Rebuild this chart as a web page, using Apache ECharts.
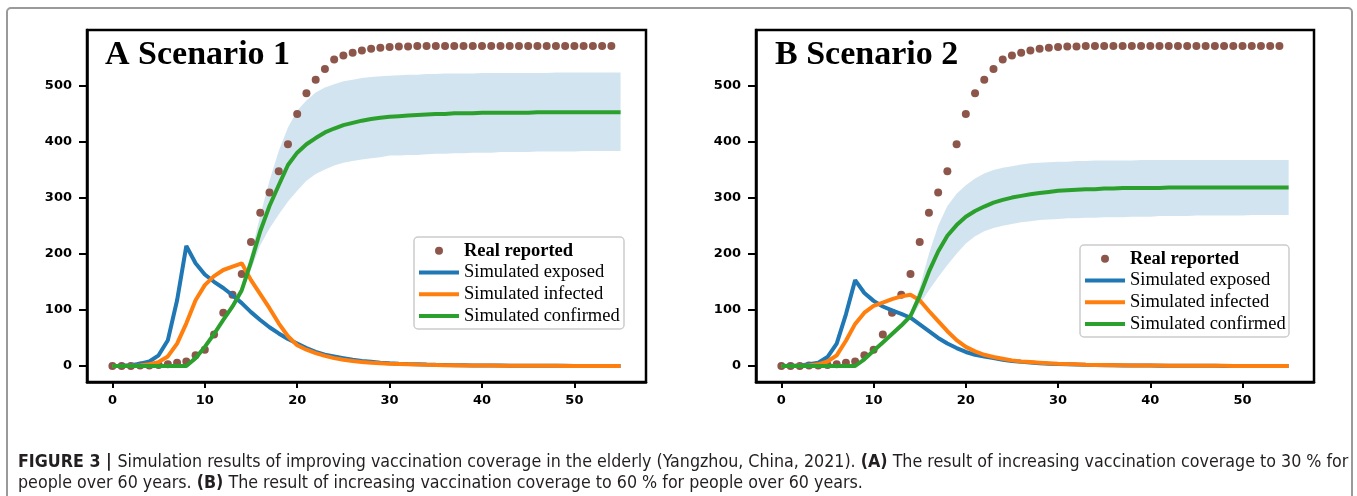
<!DOCTYPE html>
<html><head><meta charset="utf-8">
<script src="https://cdn.jsdelivr.net/npm/echarts@6/dist/echarts.min.js"></script>
<style>html,body{margin:0;padding:0;background:#fff}#c{width:1357px;height:496px}</style>
</head><body><div id="c"></div>
<script>
// ---- data (day index = position in array, day 0 .. 55) ----
const xTicks = [0, 10, 20, 30, 40, 50];
const yTicks = [0, 100, 200, 300, 400, 500];
const panelTitles = ['A Scenario 1', 'B Scenario 2'];
const seriesNames = ['Real reported', 'Simulated exposed', 'Simulated infected', 'Simulated confirmed'];

// reported cumulative cases, days 0..54 (same in both panels)
const realReported = [0,0,0,1,1,2,3,6,8,19,29,56,95,127,164,221,273,309,347,395,449,486,510,529,546,553,558,562,565,567,568,569,569,570,570,570,570,570,570,570,570,570,570,570,570,570,570,570,570,570,570,570,570,570,570];

// Scenario 1
const exposedA = [0,0.5,1.5,4,8,19,46,117,214,183,163,150,139,126,112,96,82,69,58,48,40,32,25,20,17,14,11,9,7.5,6,5,4.2,3.5,3,2.5,2.1,1.8,1.5,1.3,1.1,0.9,0.8,0.7,0.6,0.5,0.45,0.4,0.35,0.3,0.25,0.2,0.2,0.15,0.15,0.1,0.1];
const infectedA = [0,0,0.5,1,3,7,17,40,76,117,144,160,171,177,183,153,128,103,76,53,37,29,23,18,14,11,9,7,6,5,4,3.5,3,2.5,2.1,1.8,1.5,1.3,1.1,0.9,0.8,0.7,0.6,0.5,0.45,0.4,0.35,0.3,0.25,0.2,0.2,0.15,0.15,0.1,0.1,0.1];
const confirmedA = [0,0,0,0,0,0,0,0,0,14,34,57,82,106,135,185,240,285,322,358,380,395,406,416,423,429,433,437,440,442,444,445,446,447,448,449,449,450,450,450,451,451,451,451,451,451,452,452,452,452,452,452,452,452,452,452];
const upperA = [0,0,0,0,0,0,0,0,0,15,36,60,86,112,143,200,268,330,383,425,455,473,487,496,502,507,510,513,515,516,517,518,519,519,520,520,521,521,521,521,522,522,522,522,522,522,522,522,523,523,523,523,523,523,523,523];
const lowerA = [0,0,0,0,0,0,0,0,0,13,32,54,78,100,128,172,215,245,270,293,312,330,342,350,357,362,365,368,370,372,375,375,376,376,377,378,378,379,379,380,380,380,381,381,381,381,382,382,382,382,382,383,383,383,383,383];

// Scenario 2
const exposedB = [0,0.5,1,3,6,16,40,92,153,130,116,106,99,93,86,74,62,50,40,32,25,20,17,14,11,9,7.5,6.2,5,4.2,3.5,3,2.5,2.1,1.8,1.5,1.3,1.1,0.9,0.8,0.7,0.6,0.5,0.45,0.4,0.35,0.3,0.25,0.2,0.2,0.15,0.15,0.1,0.1,0.1,0.1];
const infectedB = [0,0,0.5,1,3,8,19,45,75,95,107,113,119,124,127,117,98,80,62,46,34,26,20,16,13,10,8,7,6,5,4,3.4,2.9,2.4,2,1.7,1.4,1.2,1,0.9,0.8,0.7,0.6,0.5,0.45,0.4,0.35,0.3,0.25,0.2,0.2,0.15,0.15,0.1,0.1,0.1];
const confirmedB = [0,0,0,0,0,0,0,0,0,12,27,42,57,72,89,125,168,204,232,251,266,276,284,291,296,300,303,306,308,310,312,313,314,315,315,316,316,317,317,317,317,317,318,318,318,318,318,318,318,318,318,318,318,318,318,318];
const upperB = [0,0,0,0,0,0,0,0,0,13,29,45,61,77,95,140,200,250,285,307,322,334,343,349,353,356,359,361,362,363,364,364,365,365,366,366,366,366,366,367,367,367,367,367,367,367,367,367,367,367,367,367,367,367,367,367];
const lowerB = [0,0,0,0,0,0,0,0,0,11,25,39,53,67,83,110,135,158,180,200,218,231,240,246,250,253,256,258,260,261,262,263,263,264,264,265,265,265,266,266,266,267,267,267,267,268,268,268,268,268,268,269,269,269,269,269];

// ---- build ----
const C = {real:'#8c564b', exp:'#1f77b4', inf:'#ff7f0e', conf:'#2ca02c', band:'rgba(31,119,180,0.2)'};
const xy = arr => arr.map((v, i) => [i, v]);

const panels = [
  {real: realReported, exp: exposedA, inf: infectedA, conf: confirmedA, up: upperA, lo: lowerA},
  {real: realReported, exp: exposedB, inf: infectedB, conf: confirmedB, up: upperB, lo: lowerB}
];
const gridPos = [{left: 87, top: 30, width: 559, height: 352}, {left: 756, top: 30, width: 558, height: 352}];

const tickFont = {fontFamily: 'DejaVu Sans', fontWeight: 'bold', fontSize: 13, color: '#000'};
const grids = gridPos.map(g => Object.assign({show: true, borderColor: '#000', borderWidth: 2.5, backgroundColor: 'transparent'}, g));
const xAxes = gridPos.map((g, i) => ({
  gridIndex: i, type: 'value', min: -2.75, max: 57.75,
  splitLine: {show: false},
  axisLine: {show: true, onZero: false, lineStyle: {color: '#000', width: 2.5}},
  axisTick: {show: true, length: 6, lineStyle: {color: '#000', width: 2}, customValues: xTicks},
  axisLabel: Object.assign({customValues: xTicks, margin: 12}, tickFont)
}));
const yAxes = gridPos.map((g, i) => ({
  gridIndex: i, type: 'value', min: -28.5, max: 598.5,
  splitLine: {show: false},
  axisLine: {show: true, onZero: false, lineStyle: {color: '#000', width: 2.5}},
  axisTick: {show: true, length: 8, lineStyle: {color: '#000', width: 2}, customValues: yTicks},
  axisLabel: Object.assign({customValues: yTicks, margin: 15}, tickFont)
}));

const series = [];
panels.forEach((p, i) => {
  const base = {xAxisIndex: i, yAxisIndex: i};
  // confidence band: polygon through upper bound then lower bound (reversed), mapped via axes
  series.push(Object.assign({
    type: 'custom', name: 'band-' + i, silent: true, clip: true, data: [[0, 0]],
    renderItem: (params, api) => {
      const pts = [];
      p.up.forEach((v, d) => pts.push(api.coord([d, v])));
      for (let d = p.lo.length - 1; d >= 0; d--) pts.push(api.coord([d, p.lo[d]]));
      return {type: 'polygon', shape: {points: pts}, style: {fill: C.band, stroke: null}};
    }
  }, base));
  series.push(Object.assign({type: 'scatter', name: seriesNames[0], data: xy(p.real), symbolSize: 8,
    itemStyle: {color: C.real, opacity: 1}}, base));
  series.push(Object.assign({type: 'line', name: seriesNames[1], data: xy(p.exp), symbol: 'none',
    lineStyle: {color: C.exp, width: 4}, itemStyle: {color: C.exp}}, base));
  series.push(Object.assign({type: 'line', name: seriesNames[2], data: xy(p.inf), symbol: 'none',
    lineStyle: {color: C.inf, width: 4}, itemStyle: {color: C.inf}}, base));
  series.push(Object.assign({type: 'line', name: seriesNames[3], data: xy(p.conf), symbol: 'none',
    lineStyle: {color: C.conf, width: 4}, itemStyle: {color: C.conf}}, base));
});

const linePath = 'path://M0,0L40,0L40,4L0,4Z';
const legendData = [
  {name: seriesNames[0], icon: 'circle', textStyle: {fontWeight: 'bold'}},
  {name: seriesNames[1], icon: linePath},
  {name: seriesNames[2], icon: linePath},
  {name: seriesNames[3], icon: linePath}
];
// legend frames (drawn as graphics) and legend items
const legendBoxes = [{x: 414, y: 237, width: 210, height: 92}, {x: 1080, y: 245, width: 209, height: 92}];
const legends = legendBoxes.map(b => ({
  left: b.x, top: b.y + 1,
  orient: 'vertical', itemWidth: 40, itemHeight: 8, itemGap: 0, padding: [2, 4, 0, 5],
  borderWidth: 0, backgroundColor: 'transparent',
  selectedMode: false, data: legendData,
  textStyle: {fontFamily: 'Liberation Serif', fontSize: 18.5, color: '#000', lineHeight: 21.7}
}));

const titleFont = 'bold 34px "Liberation Serif"';
const capFont = '"Liberation Sans Narrow", "DejaVu Sans Condensed", "Liberation Sans", sans-serif';
const capRich = {
  b: {fontFamily: capFont, fontWeight: 'bold', fontSize: 17.7, fill: '#231f20'},
  n: {fontFamily: capFont, fontSize: 17.7, fill: '#231f20'}
};
const graphic = [
  {type: 'rect', shape: {x: 7, y: 8, width: 1345, height: 540, r: 4}, style: {fill: 'none', stroke: '#9a9a9a', lineWidth: 2}, silent: true},
  ...legendBoxes.map(b => ({type: 'rect', z: 3, silent: true, shape: Object.assign({r: 4}, b),
    style: {fill: 'rgba(255,255,255,0.8)', stroke: '#cccccc', lineWidth: 1.5}})),
  {type: 'text', x: 105, y: 55, style: {text: panelTitles[0], font: titleFont, fill: '#000', verticalAlign: 'middle'}},
  {type: 'text', x: 775, y: 55, style: {text: panelTitles[1], font: titleFont, fill: '#000', verticalAlign: 'middle'}},
  {type: 'text', x: 18, y: 462, style: {
    text: '{b|FIGURE 3 | }{n|Simulation results of improving vaccination coverage in the elderly (Yangzhou, China, 2021). }{b|(A)}{n| The result of increasing vaccination coverage to 30 % for}',
    rich: capRich, verticalAlign: 'middle'}},
  {type: 'text', x: 18, y: 483, style: {
    text: '{n|people over 60 years. }{b|(B)}{n| The result of increasing vaccination coverage to 60 % for people over 60 years.}',
    rich: capRich, verticalAlign: 'middle'}}
];

const chart = echarts.init(document.getElementById('c'));
chart.setOption({
  animation: false,
  backgroundColor: '#fff',
  grid: grids, xAxis: xAxes, yAxis: yAxes,
  legend: legends, series: series, graphic: graphic
});
</script></body></html>
